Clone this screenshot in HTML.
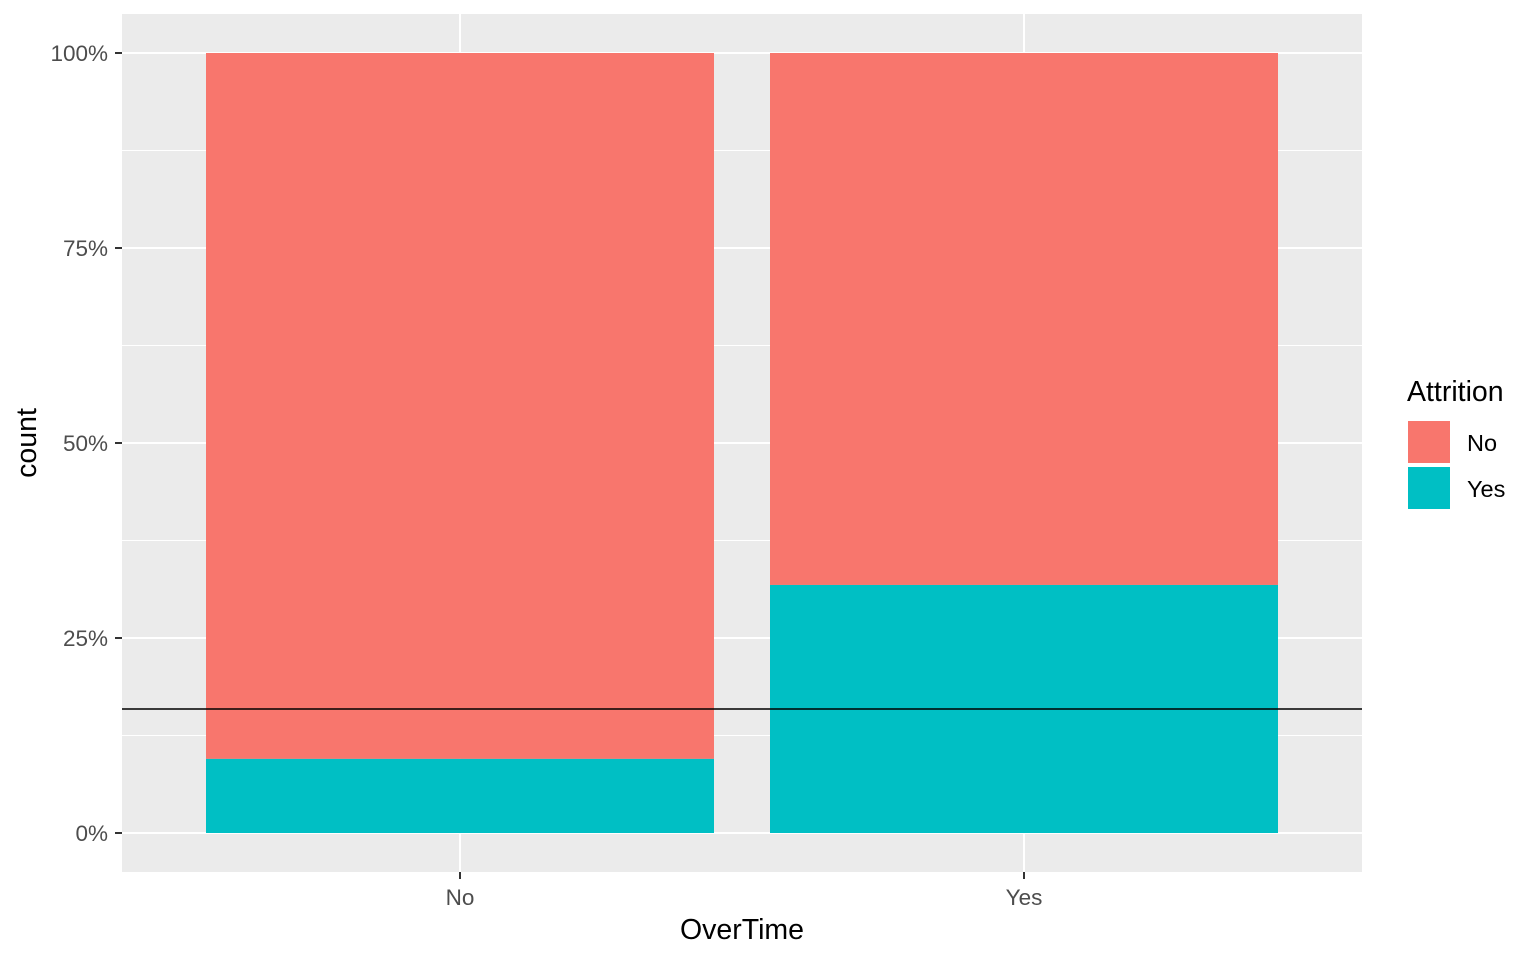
<!DOCTYPE html>
<html><head><meta charset="utf-8"><style>
body{margin:0;background:#fff;}
svg text{font-family:"Liberation Sans",Arial,sans-serif;}
</style></head><body>
<svg id="chart" width="1536" height="960" xmlns="http://www.w3.org/2000/svg">
<rect x="122" y="14" width="1240" height="858" fill="#ebebeb"/>
<g id="grid"></g>
<g id="bars"></g>
<g id="axes"></g>
<text x="742" y="939" font-size="28.5" text-anchor="middle" fill="#000">OverTime</text>
<text transform="translate(36,443) rotate(-90)" font-size="28.5" text-anchor="middle" fill="#000">count</text>
<g>
<text x="1407" y="401" font-size="28.5" fill="#000">Attrition</text>
<rect x="1408" y="421" width="42" height="42" fill="#f8766d"/>
<text x="1467" y="451" font-size="23.5" fill="#000">No</text>
<rect x="1408" y="467" width="42" height="42" fill="#00bfc4"/>
<text x="1467" y="497" font-size="23.5" fill="#000">Yes</text>
</g>
</svg>
<script>
const categories = ["No", "Yes"];
const attritionYesShare = [0.095, 0.318];
const attritionNoShare = [0.905, 0.682];
const yTicks = [0, 0.25, 0.5, 0.75, 1];
const yTickLabels = ["0%", "25%", "50%", "75%", "100%"];
const referenceLine = [0.159];

const NS = "http://www.w3.org/2000/svg";
const y = v => 833 - v * 780;
const xc = i => 460 + i * 564;
const bw = 508;
function mk(tag, attrs, parent) {
  const e = document.createElementNS(NS, tag);
  for (const k in attrs) e.setAttribute(k, attrs[k]);
  parent.appendChild(e);
  return e;
}
const grid = document.getElementById("grid"), bars = document.getElementById("bars"), axes = document.getElementById("axes");
for (let i = 0; i < yTicks.length - 1; i++) {
  const m = (yTicks[i] + yTicks[i + 1]) / 2;
  const l = mk("line", {x1: 122, x2: 1362, y1: y(m), y2: y(m), stroke: "#fff", "stroke-width": 1}, grid);
  
  
}
yTicks.forEach((t, i) => {
  const l = mk("line", {x1: 122, x2: 1362, y1: y(t), y2: y(t), stroke: "#fff", "stroke-width": 2}, grid);
  
  
  const tk = mk("line", {x1: 115, x2: 122, y1: y(t), y2: y(t), stroke: "#333", "stroke-width": 2}, axes);
  
  
  const tx = mk("text", {x: 108, y: y(t) + 8, "font-size": 22.5, "text-anchor": "end", fill: "#4d4d4d"}, axes);
  tx.textContent = yTickLabels[i];
  
  
});
categories.forEach((c, i) => {
  const g = mk("line", {x1: xc(i), x2: xc(i), y1: 14, y2: 872, stroke: "#fff", "stroke-width": 2}, grid);
  
  
  const r1 = mk("rect", {x: xc(i) - bw / 2, y: y(attritionYesShare[i] + attritionNoShare[i]), width: bw, height: attritionNoShare[i] * 780, fill: "#f8766d"}, bars);
  
  
  const r2 = mk("rect", {x: xc(i) - bw / 2, y: y(attritionYesShare[i]), width: bw, height: attritionYesShare[i] * 780, fill: "#00bfc4"}, bars);
  
  
  const tk = mk("line", {x1: xc(i), x2: xc(i), y1: 872, y2: 879, stroke: "#333", "stroke-width": 2}, axes);
  
  
  const tx = mk("text", {x: xc(i), y: 905, "font-size": 22.5, "text-anchor": "middle", fill: "#4d4d4d"}, axes);
  tx.textContent = c;
  
  
});
referenceLine.forEach(v => {
  const l = mk("line", {x1: 122, x2: 1362, y1: y(v), y2: y(v), stroke: "#000", "stroke-width": 1.5}, bars);
  
  
});
</script>
</body></html>
